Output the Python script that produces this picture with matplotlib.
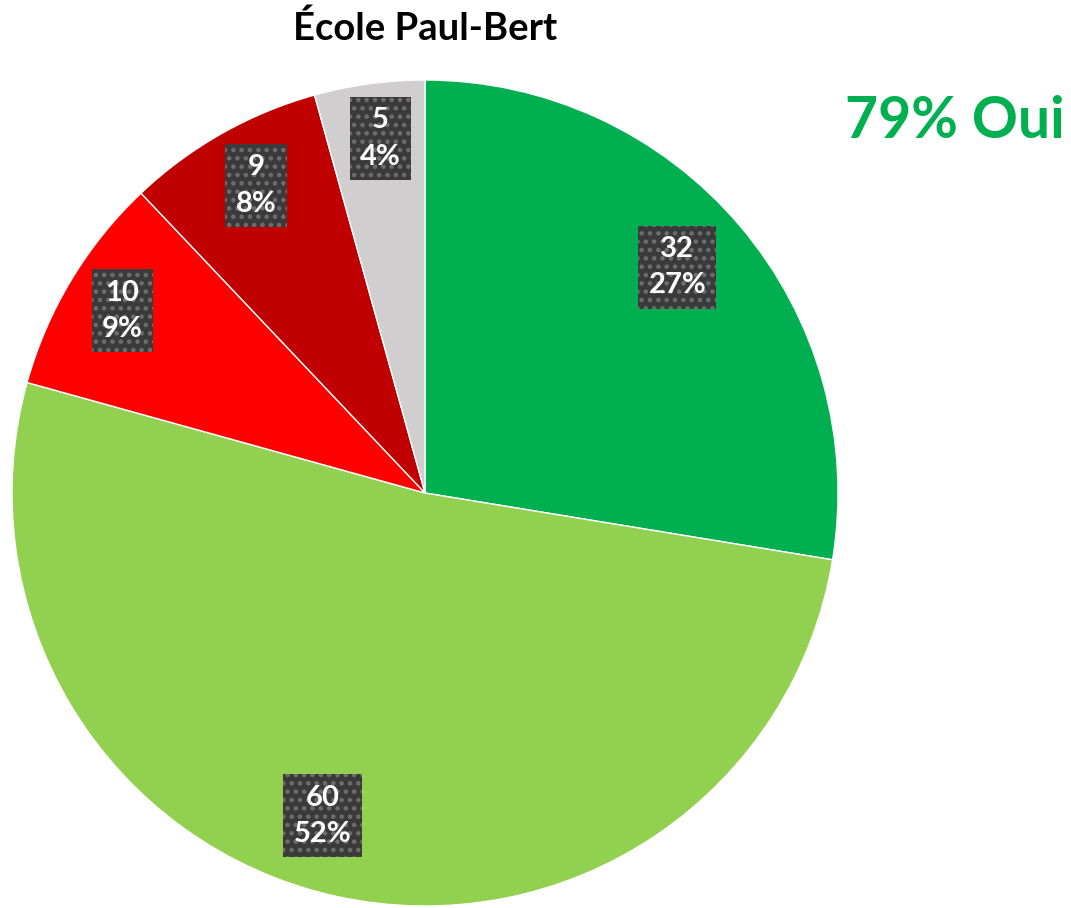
import numpy as np
import matplotlib.pyplot as plt

plt.rcParams['font.family'] = ['Lato', 'DejaVu Sans']
plt.rcParams['hatch.linewidth'] = 2.0

counts = [32, 60, 10, 9, 5]
pcts = ['27%', '52%', '9%', '8%', '4%']
colors = ['#00B050', '#92D050', '#FF0000', '#C00000', '#D0CECE']
title = "École Paul-Bert"
headline = "79% Oui"

# label placement tweaks (radius fraction, angle offset in degrees)
label_r = [0.82, 0.82, 0.855, 0.85, 0.865]
label_da = [1.5, -5.2, 0.0, -0.7, -0.6]

fig = plt.figure(figsize=(10.71, 9.08), dpi=100)
ax = fig.add_axes([0.0112, 0.0022, 0.7713, 0.9097])
wedges, _ = ax.pie(counts, colors=colors, startangle=90, counterclock=False,
                   radius=1, wedgeprops=dict(edgecolor='white', linewidth=1))
ax.set_xlim(-1, 1)
ax.set_ylim(-1, 1)
ax.set_aspect('equal')
ax.axis('off')

for w, n, p, r, da in zip(wedges, counts, pcts, label_r, label_da):
    ang = np.deg2rad((w.theta1 + w.theta2) / 2 + da)
    ax.text(r * np.cos(ang), r * np.sin(ang), f"{n}\n{p}", ha='center', va='center',
            color='white', fontsize=21, fontweight='bold', linespacing=1.5,
            bbox=dict(boxstyle='square,pad=0.35', facecolor='#3a3a3a',
                      edgecolor='#6e6e6e', linewidth=0, hatch='..'))

fig.text(425 / 1071, 1 - 28 / 908, title, ha='center', va='center',
         fontsize=27.5, fontweight='bold', color='black')
fig.text(1065 / 1071, 1 - 121 / 908, headline, ha='right', va='center',
         fontsize=41, fontweight='bold', color='#00B050')

fig.savefig('out.png', dpi=100)
